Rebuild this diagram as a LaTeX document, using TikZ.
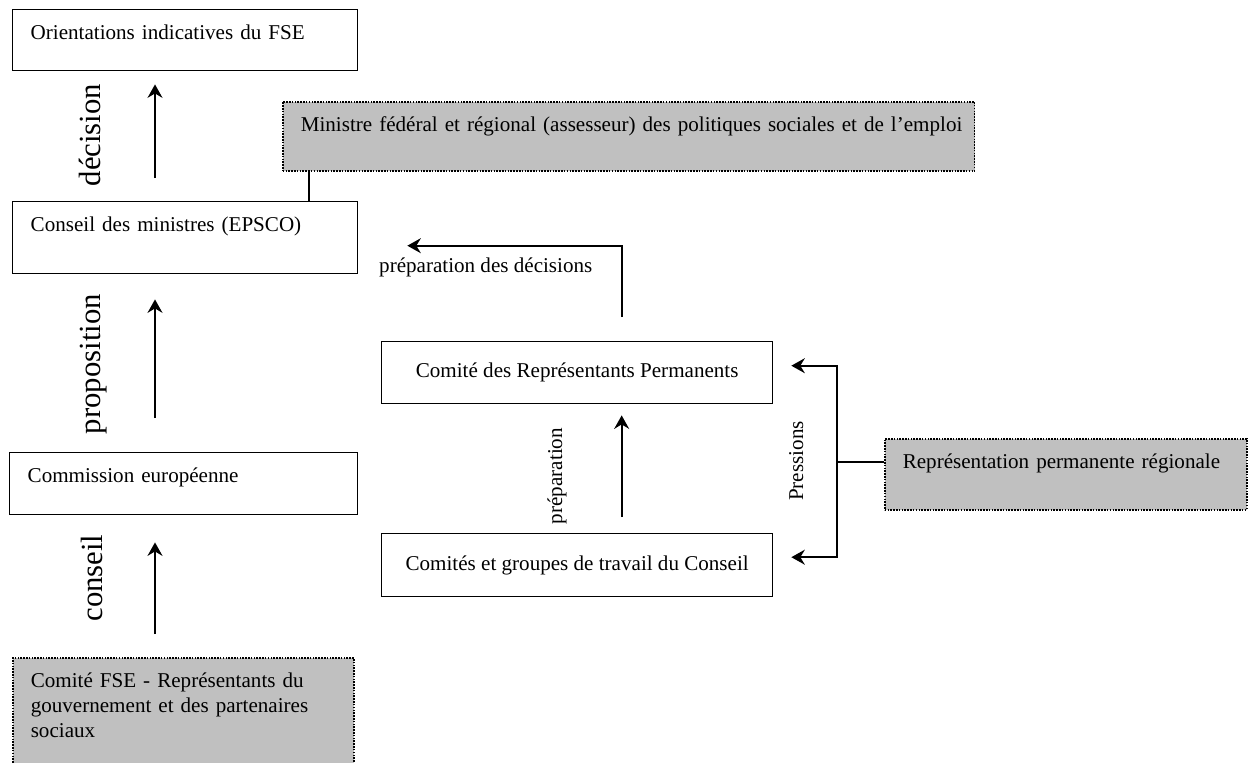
\documentclass[tikz,border=0pt]{standalone}
\usepackage{fontspec}
\setmainfont{Liberation Serif}
\usepackage{tikz}
\usetikzlibrary{arrows.meta,calc}
\definecolor{gris}{RGB}{192,192,192}

\begin{document}
\begin{tikzpicture}[x=0.02cm, y=-0.02cm,
    boite/.style={draw, line width=0.8pt, anchor=north west, inner xsep=0.36cm, inner ysep=0pt, align=left, text height=0.6cm, font=\fontsize{12}{14.2}\selectfont},
    grise/.style={boite, fill=gris, line width=0.9pt, dash pattern=on 0.9pt off 0.7pt},
    centre/.style={draw, line width=0.8pt, anchor=north west, inner sep=0pt, align=center, font=\fontsize{12}{14.2}\selectfont},
    trait/.style={line width=1pt},
    fleche/.style={trait, -{Stealth[length=0.27cm, width=0.3cm, inset=0.09cm]}},
    grand/.style={rotate=90, anchor=base, font=\fontsize{17.5}{20}\selectfont},
    petit/.style={rotate=90, anchor=base, font=\fontsize{12}{14.2}\selectfont}]

\clip (0,0) rectangle (1250,762);
\fill[white] (0,0) rectangle (1250,762);

% colonne de gauche
\node[boite, text width=6.18cm, text depth=0.62cm] (orient) at (12,9) {Orientations indicatives du FSE};
\node[boite, text width=6.18cm, text depth=0.84cm] (conseil) at (12,201) {Conseil des ministres (EPSCO)};
\node[boite, text width=6.24cm, text depth=0.64cm] (commission) at (9,452) {Commission européenne};
\node[grise, text width=6.1cm, text depth=1.8cm] (comitefse) at (12,657) {Comité FSE - Représentants du\\gouvernement et des partenaires\\sociaux};

% boites grises
\node[grise, text width=13.12cm, text depth=0.78cm] (ministre) at (282,101) {\mbox{Ministre fédéral et régional (assesseur) des politiques sociales et de l’emploi}};
\node[grise, text width=6.52cm, text depth=0.82cm] (repreg) at (884,438) {Représentation permanente régionale};

% Conseil
\node[centre, minimum width=7.82cm, minimum height=1.24cm] (rep) at (381,341) {Comité des Représentants Permanents};
\node[centre, minimum width=7.82cm, minimum height=1.26cm] (comites) at (381,533) {Comités et groupes de travail du Conseil};

% fleches de gauche
\draw[fleche] ($(conseil.north west)+(143,-23)$) -- ($(orient.south west)+(143,13)$);
\draw[fleche] ($(commission.north west)+(146,-34)$) -- ($(conseil.south west)+(143,25)$);
\draw[fleche] ($(comitefse.north west)+(143,-23)$) -- ($(commission.south west)+(146,27)$);
\node[grand] (lbldecision) at (100,135) {décision};
\node[grand] (lblproposition) at (100,364) {proposition};
\node[grand] (lblconseil) at (102,578) {conseil};

\draw[trait] (ministre.south west) ++(27,0) coordinate (m1) -- (m1 |- conseil.north);

% preparation
\draw[fleche] ($(rep.north)+(44.5,-24)$) |- ($(conseil.east)+(49,8)$);
\node[anchor=base west, font=\fontsize{12}{14.2}\selectfont] (lblprepdec) at (373,272) {préparation des décisions};
\draw[fleche] ($(comites.north)+(44.5,-16)$) -- ($(rep.south)+(44.5,11)$);
\node[petit] (lblprep) at (562,476) {préparation};

% pressions
\coordinate (p) at ($(repreg.north west)+(-47,24)$);
\draw[trait] ($(repreg.north west)+(0,24)$) -- (p);
\draw[fleche] (p) |- ($(rep.east)+(18,-7)$);
\draw[fleche] (p) |- ($(comites.east)+(18,-8)$);
\node[petit] (lblpressions) at (803,461) {Pressions};
\end{tikzpicture}
\end{document}
